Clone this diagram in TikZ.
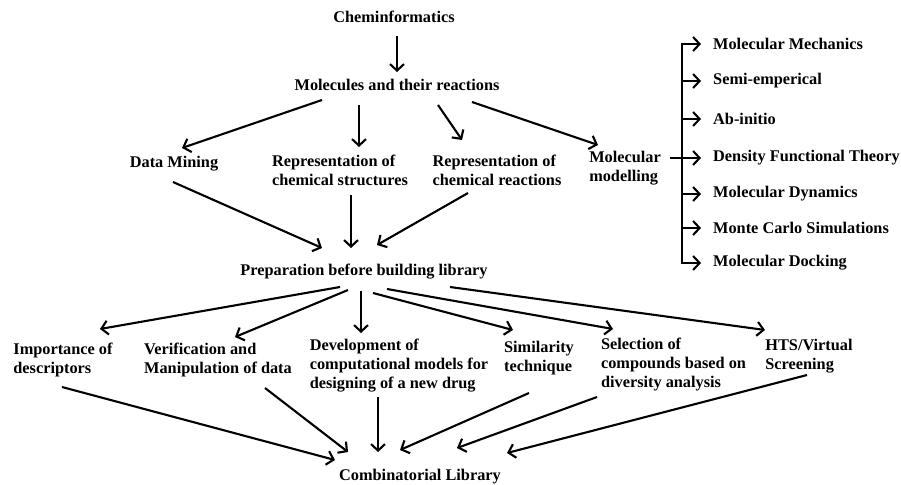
\documentclass[tikz,border=0pt]{standalone}
\usepackage{fontspec}
\setmainfont{Liberation Serif}
\usetikzlibrary{arrows.meta,calc}
\tikzset{
  lbl/.style={font=\fontsize{16.3}{19}\selectfont\bfseries, inner sep=0pt, align=left},
  arr/.style={line width=2.1pt, -{Straight Barb[length=6.5pt,width=14pt,line width=2.1pt]}},
  stemline/.style={line width=2.1pt},
}
\begin{document}
\begin{tikzpicture}[x=1pt,y=-1pt]
\useasboundingbox (0,0) rectangle (901,484);

% top of the tree
\node[lbl] (cheminf) at (394,17) {Cheminformatics};
\node[lbl] (molec) at (397,85) {Molecules and their reactions};

% second level
\node[lbl] (dm) at (174,164) {Data Mining};
\node[lbl] (rs) at (340,170) {Representation of\\chemical structures};
\node[lbl] (rr) at (497,170) {Representation of\\chemical reactions};
\node[lbl] (mm) at (625,168) {Molecular\\modelling};

% modelling methods
\node[lbl, anchor=west] (mech) at (713,44) {Molecular Mechanics};
\node[lbl, anchor=west] (semi) at (713,81) {Semi-emperical};
\node[lbl, anchor=west] (abin) at (713,119) {Ab-initio};
\node[lbl, anchor=west] (dft)  at (713,158) {Density Functional Theory};
\node[lbl, anchor=west] (md)   at (713,194) {Molecular Dynamics};
\node[lbl, anchor=west] (mc)   at (713,228) {Monte Carlo Simulations};
\node[lbl, anchor=west] (dock) at (713,263) {Molecular Docking};

% preparation
\node[lbl] (prep) at (364,272) {Preparation before building library};

% third level
\node[lbl] (imp) at (63,360) {Importance of\\descriptors};
\node[lbl] (ver) at (218,360) {Verification and\\Manipulation of data};
\node[lbl] (dev) at (399,366) {Development of\\computational models for\\designing of a new drug};
\node[lbl] (sim) at (539,358) {Similarity\\technique};
\node[lbl] (sel) at (673.5,365) {Selection of\\compounds based on\\diversity analysis};
\node[lbl] (hts) at (809,356) {HTS/Virtual\\Screening};

% result
\node[lbl] (combi) at (420,477) {Combinatorial Library};

% connectors, upper part
\draw[arr] ($(cheminf)+(3,19)$) -- ($(molec)+(0,-13)$);
\draw[arr] ($(molec)+(-75,15)$) -- ($(dm)+(8,-16)$);
\draw[arr] ($(molec)+(-38,20)$) -- ($(rs)+(19,-23)$);
\draw[arr] ($(molec)+(41,20)$) -- ($(rr)+(-35,-30)$);
\draw[arr] ($(molec)+(75,17)$) -- ($(mm)+(-27,-23)$);

\draw[arr] ($(dm)+(-1,18)$) -- ($(prep)+(-42,-24)$);
\draw[arr] ($(rs)+(11,25)$) -- ($(prep)+(-13,-24)$);
\draw[arr] ($(rr)+(-29,23)$) -- ($(prep)+(13,-27)$);

% modelling branch
\coordinate (stemtop) at (682,44);
\coordinate (stembot) at (682,263);
\draw[stemline, line cap=rect] (stemtop) -- (stembot);
\foreach \m in {mech,semi,abin,md,mc,dock}
  \draw[arr] (stemtop |- \m.west) -- ([xshift=-12pt]\m.west);
\draw[arr] ($(mm)+(45,-10)$) -- ([xshift=-12pt]dft.west);

% connectors, lower part
\draw[arr] ($(prep)+(-24,15)$) -- ($(imp)+(37,-31)$);
\draw[arr] ($(prep)+(-16,18)$) -- ($(ver)+(17,-23)$);
\draw[arr] ($(prep)+(-3,19)$) -- ($(dev)+(-38,-33)$);
\draw[arr] ($(prep)+(9,21)$) -- ($(sim)+(-26,-28)$);
\draw[arr] ($(prep)+(23,17)$) -- ($(sel)+(-60.5,-36)$);
\draw[arr] ($(prep)+(86,15)$) -- ($(hts)+(-44,-26)$);

\draw[arr] ($(imp)+(-1,27)$) -- ($(combi)+(-85,-17)$);
\draw[arr] ($(ver)+(47,28)$) -- ($(combi)+(-72,-25)$);
\draw[arr] ($(dev)+(-21,31)$) -- ($(combi)+(-42,-25)$);
\draw[arr] ($(sim)+(-10,35)$) -- ($(combi)+(-20,-27)$);
\draw[arr] ($(sel)+(-76.5,32)$) -- ($(combi)+(37,-29)$);
\draw[arr] ($(hts)+(-2,19)$) -- ($(combi)+(87,-24)$);
\end{tikzpicture}
\end{document}
